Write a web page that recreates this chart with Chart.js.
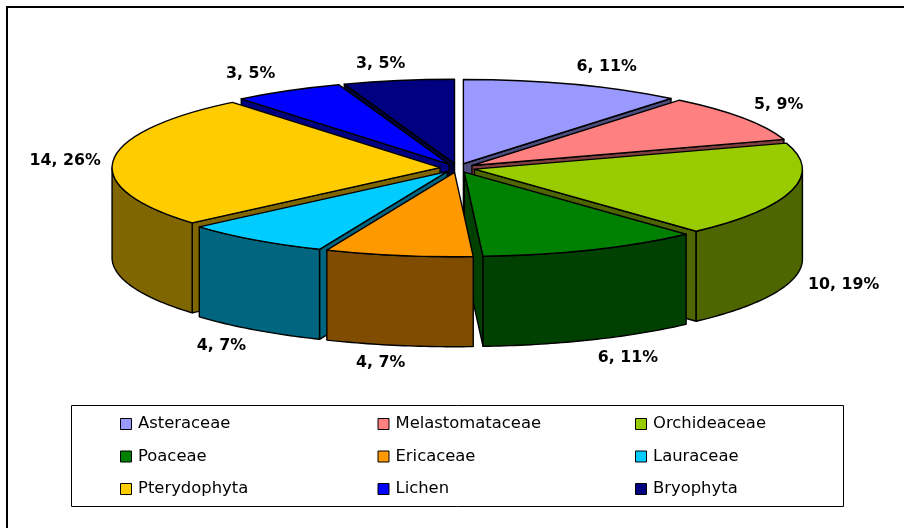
<!DOCTYPE html>
<html>
<head>
<meta charset="utf-8">
<style>html,body{margin:0;padding:0;background:#fff}canvas{display:block}</style>
<script src="https://cdn.jsdelivr.net/npm/chart.js@4/dist/chart.umd.min.js"></script>
</head>
<body>
<canvas id="c" width="904" height="528"></canvas>
<script>
const categories = ['Asteraceae','Melastomataceae','Orchideaceae','Poaceae','Ericaceae','Lauraceae','Pterydophyta','Lichen','Bryophyta'];
const counts = [6,5,10,6,4,4,14,3,3];
const percents = [11,9,19,11,7,7,26,5,5];
const topColors = ['#9999FF','#FF8080','#99CC00','#008000','#FF9900','#00CCFF','#FFCC00','#0000FF','#000080'];
const wallColors = ['#4D4D80','#804040','#4D6600','#004000','#804D00','#006680','#806600','#000080','#000040'];
const labelNudgeX = [33,36,52,36,-18,-33,-48,-37,-18];
const labelNudgeY = [-17,-13,94,108,107,106,0,-17,-17];

const TILT = 0.257, DEPTH = 90, EXPLODE = 17.5, LINE = 1.4;
const FONT_FAMILY = '"DejaVu Sans", sans-serif';

function outline(ctx){ ctx.strokeStyle='#000'; ctx.lineWidth=LINE; ctx.lineJoin='round'; ctx.stroke(); }

const pie3d = {
  id:'pie3d',
  beforeDatasetDraw(chart,args){
    const ctx = chart.ctx;
    const arcs = chart.getDatasetMeta(args.index).data;
    const order = arcs.map((a,i)=>i).sort((p,q)=>{
      const s = a=>Math.sin((a.startAngle+a.endAngle)/2);
      return s(arcs[p])-s(arcs[q]);
    });
    for(const i of order){
      const a = arcs[i], mid=(a.startAngle+a.endAngle)/2;
      const ox=a.x+Math.cos(mid)*EXPLODE, oy=a.y+Math.sin(mid)*EXPLODE*TILT, R=a.outerRadius;
      const px=t=>ox+Math.cos(t)*R, py=t=>oy+Math.sin(t)*R*TILT;
      ctx.fillStyle=wallColors[i];
      // radial walls that face the viewer
      [[a.startAngle,Math.cos(a.startAngle)<0],[a.endAngle,Math.cos(a.endAngle)>0]].forEach(([t,vis])=>{
        if(!vis) return;
        ctx.beginPath();
        ctx.moveTo(ox,oy); ctx.lineTo(px(t),py(t)); ctx.lineTo(px(t),py(t)+DEPTH); ctx.lineTo(ox,oy+DEPTH); ctx.closePath();
        ctx.fill(); outline(ctx);
      });
      // curved outer wall (lower half of the rim only)
      const t0=Math.max(a.startAngle,0), t1=Math.min(a.endAngle,Math.PI);
      if(t1>t0){
        ctx.beginPath();
        const n=Math.max(8,Math.ceil((t1-t0)*60));
        for(let k=0;k<=n;k++){const t=t0+(t1-t0)*k/n; k?ctx.lineTo(px(t),py(t)):ctx.moveTo(px(t),py(t));}
        for(let k=n;k>=0;k--){const t=t0+(t1-t0)*k/n; ctx.lineTo(px(t),py(t)+DEPTH);}
        ctx.closePath(); ctx.fill(); outline(ctx);
      }
      // top face: the library's own arc, through a flattening transform
      ctx.save();
      ctx.translate(ox,oy); ctx.scale(1,TILT); ctx.translate(-a.x,-a.y);
      a.draw(ctx);
      ctx.beginPath(); ctx.moveTo(a.x,a.y); ctx.arc(a.x,a.y,R,a.startAngle,a.endAngle); ctx.closePath();
      ctx.restore();
      outline(ctx);
    }
    return false;
  },
  afterDraw(chart){
    const ctx=chart.ctx, arcs=chart.getDatasetMeta(0).data;
    ctx.save();
    // frame: only the top and left rules fall inside the picture
    ctx.fillStyle='#000';
    ctx.fillRect(6,6,898,2);
    ctx.fillRect(6,6,2,522);
    // data labels
    ctx.fillStyle='#000'; ctx.textAlign='center'; ctx.textBaseline='middle';
    ctx.font='bold 15.8px '+FONT_FAMILY;
    arcs.forEach((a,i)=>{
      const mid=(a.startAngle+a.endAngle)/2, r=a.outerRadius+EXPLODE;
      ctx.fillText(counts[i]+', '+percents[i]+'%', a.x+Math.cos(mid)*r+labelNudgeX[i], a.y+Math.sin(mid)*r*TILT+labelNudgeY[i]);
    });
    // legend
    const box={x:71.5,y:405.5,w:772,h:101}, colX=[120,377.5,635], rowY=[418,450.5,483], sw=11;
    ctx.strokeStyle='#000'; ctx.lineWidth=1; ctx.strokeRect(box.x,box.y,box.w,box.h);
    ctx.textAlign='left'; ctx.font='16.4px '+FONT_FAMILY;
    categories.forEach((c,i)=>{
      const x=colX[i%3], y=rowY[Math.floor(i/3)];
      ctx.fillStyle=topColors[i]; ctx.fillRect(x+.5,y+.5,sw,sw);
      ctx.strokeStyle='#000'; ctx.lineWidth=1; ctx.strokeRect(x+.5,y+.5,sw,sw);
      ctx.fillStyle='#000'; ctx.fillText(c,x+18,y+6);
    });
    ctx.restore();
  }
};

new Chart(document.getElementById('c'),{
  type:'pie',
  data:{labels:categories,datasets:[{data:counts,backgroundColor:topColors,borderWidth:0,offset:0}]},
  options:{
    responsive:false,animation:false,radius:328,
    layout:{padding:{left:11,top:0,right:0,bottom:192}},
    plugins:{legend:{display:false},tooltip:{enabled:false}}
  },
  plugins:[pie3d]
});
</script>
</body>
</html>
